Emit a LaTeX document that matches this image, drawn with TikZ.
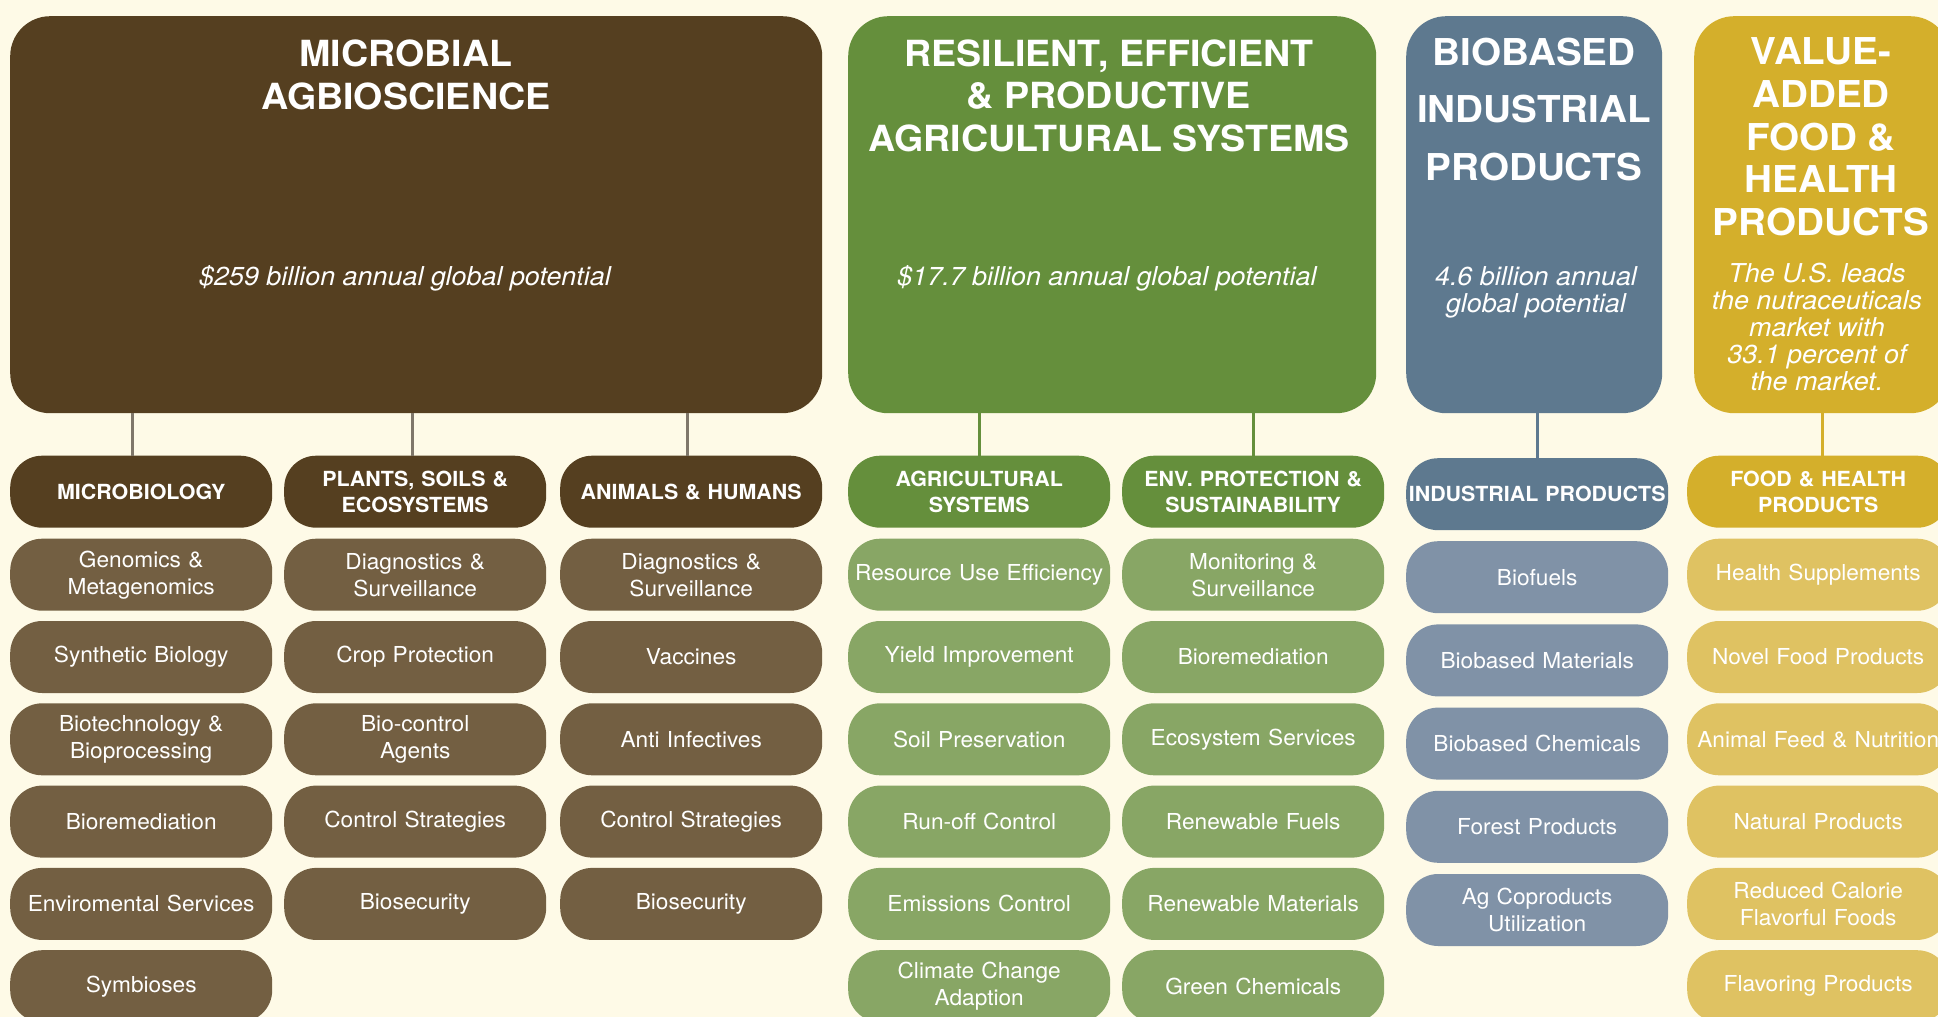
\documentclass[tikz,border=0pt]{standalone}
\usepackage{fontspec}
\setmainfont[FakeStretch=1.03]{TeX Gyre Heros}
\newfontfamily\ttlfont[FakeStretch=1.045]{TeX Gyre Heros}
\newfontfamily\subfont[FakeStretch=1.035]{TeX Gyre Heros}
\definecolor{bg}{HTML}{FEFAE7}
\definecolor{brD}{HTML}{553F20}
\definecolor{brL}{HTML}{735F42}
\definecolor{brK}{HTML}{7F776A}
\definecolor{grD}{HTML}{658F3C}
\definecolor{grL}{HTML}{88A665}
\definecolor{blD}{HTML}{5E798F}
\definecolor{blL}{HTML}{8092A7}
\definecolor{goD}{HTML}{D4AF2B}
\definecolor{goL}{HTML}{DFC262}
\tikzset{
  mainbox/.style={rectangle, rounded corners=40pt, anchor=north west, inner sep=0pt},
  ttl/.style={anchor=north, inner sep=0pt, text=white, align=center},
  subt/.style={inner sep=0pt, text=white, align=center, font=\subfont\fontsize{26}{27}\selectfont\itshape},
  pill/.style={rectangle, rounded corners=32pt, anchor=north west, inner sep=0pt,
    minimum width=262pt, minimum height=72pt, text width=260pt, align=center, text=white},
  hdr/.style={pill, font=\fontsize{20.8}{26}\selectfont\bfseries},
  itm/.style={pill, font=\fontsize{22}{27}\selectfont},
  conn/.style={line width=3pt}
}
\begin{document}
\begin{tikzpicture}[x=1pt,y=-1pt]
\clip (0,0) rectangle (1938,1017);
\fill[bg] (0,0) rectangle (1938,1017);

% main boxes
\node[mainbox, fill=brD, minimum width=812pt, minimum height=397pt] (M1) at (10,16) {};
\node[mainbox, fill=grD, minimum width=528pt, minimum height=397pt] (M2) at (848,16) {};
\node[mainbox, fill=blD, minimum width=256pt, minimum height=397pt] (M3) at (1406,16) {};
\node[mainbox, fill=goD, minimum width=256pt, minimum height=397pt] (M4) at (1694,16) {};

% titles
\node[ttl, font=\ttlfont\fontsize{36}{42.6}\selectfont\bfseries] (T1) at (406,39.8) {MICROBIAL\\AGBIOSCIENCE};
\node[ttl, font=\ttlfont\fontsize{36}{42.3}\selectfont\bfseries] (T2) at (1109,39.8) {RESILIENT, EFFICIENT\\\& PRODUCTIVE\\AGRICULTURAL SYSTEMS};
\node[ttl, font=\ttlfont\fontsize{37}{57.5}\selectfont\bfseries] (T3) at (1534,37.4) {BIOBASED\\INDUSTRIAL\\PRODUCTS};
\node[ttl, font=\ttlfont\fontsize{37}{42.75}\selectfont\bfseries] (T4) at (1821,37.4) {VALUE-\\ADDED\\FOOD \&\\HEALTH\\PRODUCTS};

% subtitles
\node[subt, anchor=base] (S1) at (405,285) {\$259 billion annual global potential};
\node[subt, anchor=base] (S2) at (1107,285) {\$17.7 billion annual global potential};
\node[subt, anchor=north] (S3) at (1536,266) {4.6 billion annual\\global potential};
\node[subt, anchor=north] (S4) at (1817,262.5) {The U.S. leads\\the nutraceuticals\\market with\\33.1 percent of\\the market.};

% section headers
\node[hdr, fill=brD] (H1) at (10,455.5) {MICROBIOLOGY};
\node[hdr, fill=brD] (H2) at (284,455.5) {PLANTS, SOILS \&\\ECOSYSTEMS};
\node[hdr, fill=brD] (H3) at (560,455.5) {ANIMALS \& HUMANS};
\node[hdr, fill=grD] (H4) at (848,455.5) {AGRICULTURAL\\SYSTEMS};
\node[hdr, fill=grD] (H5) at (1122,455.5) {ENV. PROTECTION \&\\SUSTAINABILITY};
\node[hdr, fill=blD] (H6) at (1406,458) {INDUSTRIAL PRODUCTS};
\node[hdr, fill=goD] (H7) at (1687,455.5) {FOOD \& HEALTH\\PRODUCTS};

% connectors
\coordinate (k1) at (132,0);
\coordinate (k2) at (412,0);
\coordinate (k3) at (687,0);
\coordinate (k7) at (1822,0);
\draw[conn, brK] (M1.south -| k1) -- (H1.north -| k1);
\draw[conn, brK] (M1.south -| k2) -- (H2.north -| k2);
\draw[conn, brK] (M1.south -| k3) -- (H3.north -| k3);
\draw[conn, grD] (M2.south -| H4.north) -- (H4.north);
\draw[conn, grD] (M2.south -| H5.north) -- (H5.north);
\draw[conn, blD] (M3.south -| H6.north) -- (H6.north);
\draw[conn, goD] (M4.south -| k7) -- (H7.north -| k7);

% items
\foreach \t [count=\i] in {{Genomics \&\\Metagenomics},{Synthetic Biology},{Biotechnology \&\\Bioprocessing},{Bioremediation},{Enviromental Services},{Symbioses}}
  \node[itm, fill=brL] (A\i) at (10,{538.5+82.3*(\i-1)}) {\t};
\foreach \t [count=\i] in {{Diagnostics \&\\Surveillance},{Crop Protection},{Bio-control\\Agents},{Control Strategies},{Biosecurity}}
  \node[itm, fill=brL] (B\i) at (284,{538.5+82.3*(\i-1)}) {\t};
\foreach \t [count=\i] in {{Diagnostics \&\\Surveillance},{Vaccines},{Anti Infectives},{Control Strategies},{Biosecurity}}
  \node[itm, fill=brL] (C\i) at (560,{538.5+82.3*(\i-1)}) {\t};
\foreach \t [count=\i] in {{Resource Use Efficiency},{Yield Improvement},{Soil Preservation},{Run-off Control},{Emissions Control},{Climate Change\\Adaption}}
  \node[itm, fill=grL] (D\i) at (848,{538.5+82.3*(\i-1)}) {\t};
\foreach \t [count=\i] in {{Monitoring \&\\Surveillance},{Bioremediation},{Ecosystem Services},{Renewable Fuels},{Renewable Materials},{Green Chemicals}}
  \node[itm, fill=grL] (E\i) at (1122,{538.5+82.3*(\i-1)}) {\t};
\foreach \t [count=\i] in {{Biofuels},{Biobased Materials},{Biobased Chemicals},{Forest Products},{Ag Coproducts\\Utilization}}
  \node[itm, fill=blL] (F\i) at (1406,{541+83.2*(\i-1)}) {\t};
\foreach \t [count=\i] in {{Health Supplements},{Novel Food Products},{Animal Feed \& Nutrition},{Natural Products},{Reduced Calorie\\Flavorful Foods},{Flavoring Products}}
  \node[itm, fill=goL] (G\i) at (1687,{538.5+82.3*(\i-1)}) {\t};
\end{tikzpicture}
\end{document}
